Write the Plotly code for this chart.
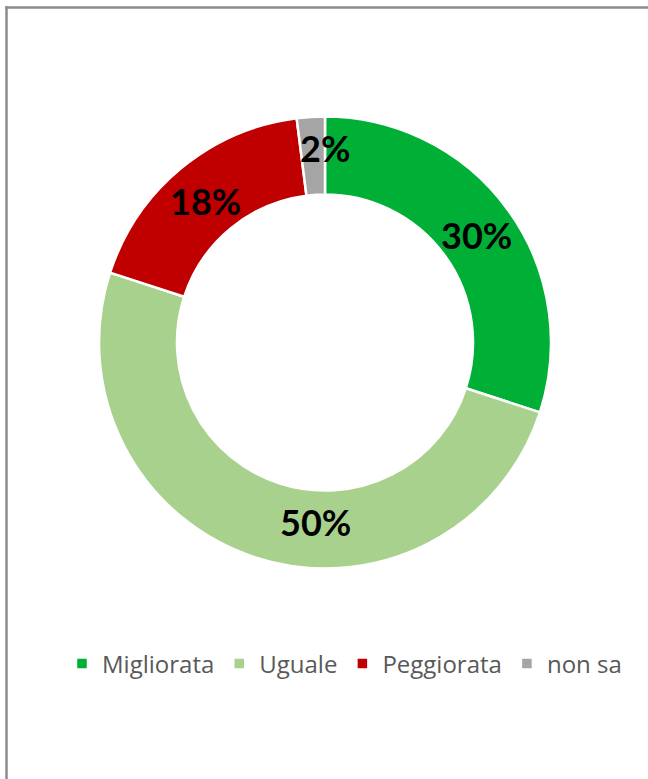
import math
import plotly.graph_objects as go

# ---- data ----
categories = ["Migliorata", "Uguale", "Peggiorata", "non sa"]
values = [30, 50, 18, 2]
colors = ["#00B036", "#A9D18E", "#C00000", "#A5A5A5"]

# ---- layout constants (pixels) ----
W, H = 648, 779
CX, CY = 325, 342.5          # donut centre
R_OUT = 226
HOLE = 0.655
R_MID = R_OUT * (1 + HOLE) / 2
# manual nudges of the data labels (like moved labels in the original)
label_dx = [0, 48, 0, 12]
label_dy = [2, 2, 3, -8]

fig = go.Figure()
fig.add_trace(go.Pie(
    labels=categories,
    values=values,
    marker=dict(colors=colors, line=dict(color="white", width=2.5)),
    hole=HOLE,
    sort=False,
    direction="clockwise",
    rotation=0,
    textinfo="none",
    hoverinfo="label+percent",
    domain=dict(x=[(CX - R_OUT) / W, (CX + R_OUT) / W],
                y=[1 - (CY + R_OUT) / H, 1 - (CY - R_OUT) / H]),
))

# data labels placed at the middle of each ring segment
total = sum(values)
cum = 0
annotations = []
for i, v in enumerate(values):
    mid = (cum + v / 2) / total * 2 * math.pi
    cum += v
    px = CX + R_MID * math.sin(mid) + label_dx[i]
    py = CY - R_MID * math.cos(mid) + label_dy[i]
    annotations.append(dict(
        x=px / W, y=1 - py / H, xref="paper", yref="paper",
        text=f"<b>{round(v / total * 100)}%</b>", showarrow=False,
        xanchor="center", yanchor="middle",
        font=dict(family="Lato", size=36, color="black"),
    ))

FX, FY = 6.5 / W, 1 - 7.5 / H   # frame left / top
frame_line = dict(color="#8C8C8C", width=2.5)

fig.update_layout(
    width=W, height=H,
    margin=dict(l=0, r=0, t=0, b=0),
    paper_bgcolor="white",
    plot_bgcolor="white",
    showlegend=True,
    legend=dict(
        orientation="h",
        x=62 / W, xanchor="left",
        y=1 - 664 / H, yanchor="middle",
        font=dict(family="Open Sans", size=24, color="#595959"),
        itemclick=False, itemdoubleclick=False,
        traceorder="normal",
    ),
    annotations=annotations,
    shapes=[
        dict(type="line", xref="paper", yref="paper",
             x0=FX - 1.25 / W, x1=1, y0=FY, y1=FY, line=frame_line),
        dict(type="line", xref="paper", yref="paper",
             x0=FX, x1=FX, y0=0, y1=FY + 1.25 / H, line=frame_line),
    ],
)

post = """
document.documentElement.style.overflow='hidden';
document.body.style.overflow='hidden';
document.body.style.margin='0';
var gd = document.querySelector('.plotly-graph-div');
if (gd) { gd.style.position='fixed'; gd.style.top='0'; gd.style.left='0'; }
window.scrollTo(0, 0);
"""

fig.write_html("out.html", config={"displayModeBar": False}, post_script=post)
